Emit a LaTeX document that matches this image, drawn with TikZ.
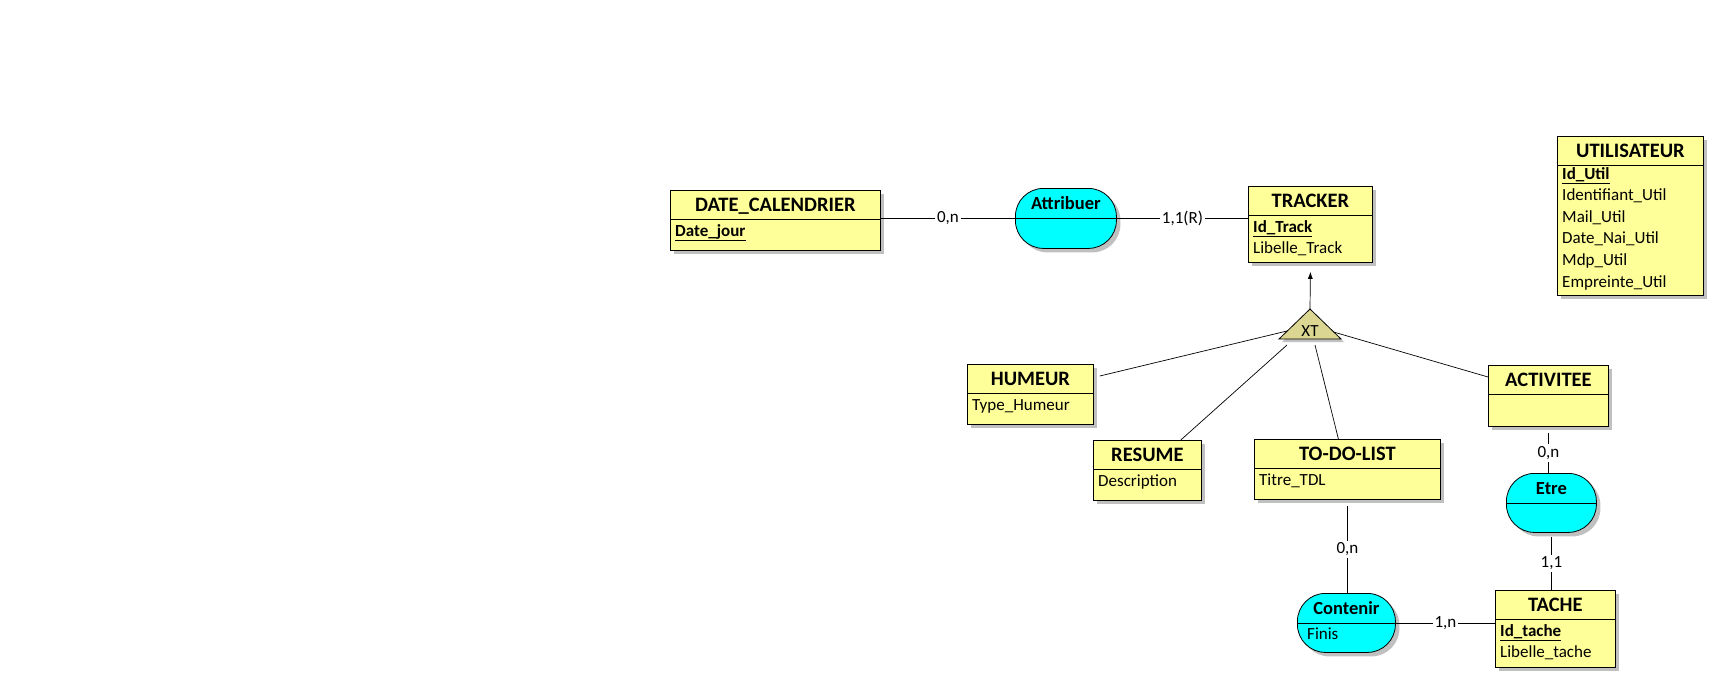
\documentclass[tikz,border=0pt]{standalone}
\usepackage{fontspec}
\setmainfont{Carlito}
\usetikzlibrary{calc,shadows,arrows.meta}
\definecolor{jaune}{RGB}{255,255,153}
\definecolor{cyanrel}{RGB}{0,255,255}
\definecolor{kaki}{RGB}{219,215,146}
\definecolor{ombre}{RGB}{192,192,192}
\newcommand\idcle[1]{\underline{\textbf{#1}}}
\def\entite[#1](#2,#3)(#4,#5)#6{%
	\node[entite, minimum width={#4-#2}, minimum height={#5-#3}] (#1) at (#2,#3) {};
	\node[titre] (#1-titre) at ($(#1.north)+(0,21.5)$) {#6};
	\draw[line width=0.8pt] ($(#1.north west)+(0,29)$) -- ($(#1.north east)+(0,29)$);}
\def\relation[#1](#2,#3)(#4,#5)#6{%
	\node[relation, minimum width={#4-#2}, minimum height={#5-#3}] (#1) at (#2,#3) {};
	\node[titrerel] (#1-titre) at ($(#1.north)+(0,21)$) {#6};
	\draw[line width=0.8pt] (#1.west) -- (#1.east);}

\begin{document}
\begin{tikzpicture}[x=1pt, y=-1pt,
		entite/.style={draw, fill=jaune, anchor=north west, inner sep=0pt, line width=0.8pt,
			general shadow={fill=ombre, shadow xshift=4pt, shadow yshift=-4pt}},
		relation/.style={entite, fill=cyanrel, rounded corners=28pt},
		titre/.style={anchor=base, inner sep=0pt, font=\fontsize{20.5}{24}\selectfont\bfseries},
		titrerel/.style={anchor=base, inner sep=0pt, font=\fontsize{18.5}{22}\selectfont\bfseries},
		champ/.style={anchor=base west, inner sep=0pt, font=\fontsize{17}{20}\selectfont},
		card/.style={fill=white, inner sep=2pt, font=\fontsize{17}{20}\selectfont},
		lien/.style={line width=0.7pt},
		fleche/.style={lien, -{Latex[length=7pt,width=5pt]}}]
			%%%%% START %%%%%
			\useasboundingbox (0,0) rectangle (1714,678);
			
			% entites
			\entite[datecal](670,190)(880,250){DATE\_CALENDRIER}
			\node[champ] (datecal-1) at ($(datecal.north west)+(5,46)$) {\idcle{Date\_jour}};
			
			\entite[tracker](1248,186)(1372,262){TRACKER}
			\node[champ] (tracker-1) at ($(tracker.north west)+(5,46)$) {\idcle{Id\_Track}};
			\node[champ] (tracker-2) at ($(tracker.north west)+(5,67)$) {Libelle\_Track};
			
			\entite[util](1557,136)(1703,295){UTILISATEUR}
			\node[champ] (util-1) at ($(util.north west)+(5,43)$) {\idcle{Id\_Util}};
			\node[champ] (util-2) at ($(util.north west)+(5,64.6)$) {Identifiant\_Util};
			\node[champ] (util-3) at ($(util.north west)+(5,86.2)$) {Mail\_Util};
			\node[champ] (util-4) at ($(util.north west)+(5,107.8)$) {Date\_Nai\_Util};
			\node[champ] (util-5) at ($(util.north west)+(5,129.4)$) {Mdp\_Util};
			\node[champ] (util-6) at ($(util.north west)+(5,151)$) {Empreinte\_Util};
			
			\entite[humeur](967,364)(1093,424){HUMEUR}
			\node[champ] (humeur-1) at ($(humeur.north west)+(5,46)$) {Type\_Humeur};
			
			\entite[resume](1093,440)(1201,500){RESUME}
			\node[champ] (resume-1) at ($(resume.north west)+(5,46)$) {Description};
			
			\entite[todo](1254,439)(1440,499){TO-DO-LIST}
			\node[champ] (todo-1) at ($(todo.north west)+(5,46)$) {Titre\_TDL};
			
			\entite[activitee](1488,365)(1608,426){ACTIVITEE}
			
			\entite[tache](1495,590)(1615,667){TACHE}
			\node[champ] (tache-1) at ($(tache.north west)+(5,46)$) {\idcle{Id\_tache}};
			\node[champ] (tache-2) at ($(tache.north west)+(5,67)$) {Libelle\_tache};
			
			% relations
			\relation[attribuer](1015,188)(1116,248){Attribuer}
			\relation[etre](1506,473)(1596,532){Etre}
			\relation[contenir](1297,593)(1395,652){Contenir}
			\node[champ] (contenir-1) at ($(contenir.north west)+(10,46)$) {Finis};
			
			% heritage
			\coordinate (xt-g) at (1279,339);
			\coordinate (xt-h) at (1310,309);
			\coordinate (xt-d) at (1341,339);
			\coordinate (xt-b1) at ($(xt-g)+(8,6)$);
			\coordinate (xt-b2) at ($(xt-g)+(36,6)$);
			\fill[ombre] ($(xt-g)+(3,3)$) -- ($(xt-h)+(3,3)$) -- ($(xt-d)+(3,3)$) -- cycle;
			\draw[fill=kaki, line width=0.8pt] (xt-g) -- (xt-h) -- (xt-d) -- cycle;
			\node[anchor=base, inner sep=0pt, font=\fontsize{17}{20}\selectfont] (xt) at (1310,336) {XT};
			
			\draw[fleche] (xt-h) -- ($(tracker.south)+(0,9)$);
			\draw[lien] ($(humeur.north east)+(6,12)$) -- ($(xt-g)!0.27!(xt-h)$);
			\draw[lien] ($(resume.north east)+(-21,0)$) -- (xt-b1);
			\draw[lien] ($(todo.north)+(-9,0)$) -- (xt-b2);
			\draw[lien] ($(activitee.north west)+(0,12)$) -- ($(xt-d)!0.23!(xt-h)$);
			
			% liens
			\draw[lien] (attribuer.west -| datecal.east) -- node[card] (c-datecal) {0,n} (attribuer.west);
			\draw[lien] (attribuer.east) -- node[card] (c-tracker) {1,1(R)} (attribuer.east -| tracker.west);
			\draw[lien] ($(activitee.south)+(0,6)$) -- node[card] (c-activitee) {0,n} (activitee.south |- etre.north);
			\draw[lien] ($(etre.south)+(0,4)$) -- node[card] (c-tache) {1,1} (etre.south |- tache.north);
			\draw[lien] ($(todo.south)+(0,6)$) -- node[card] (c-todo) {0,n} (todo.south |- contenir.north);
			\draw[lien] (contenir.east) -- node[card] (c-contenir) {1,n} (contenir.east -| tache.west);
			
			%%%%% END %%%%%
\end{tikzpicture}
\end{document}
